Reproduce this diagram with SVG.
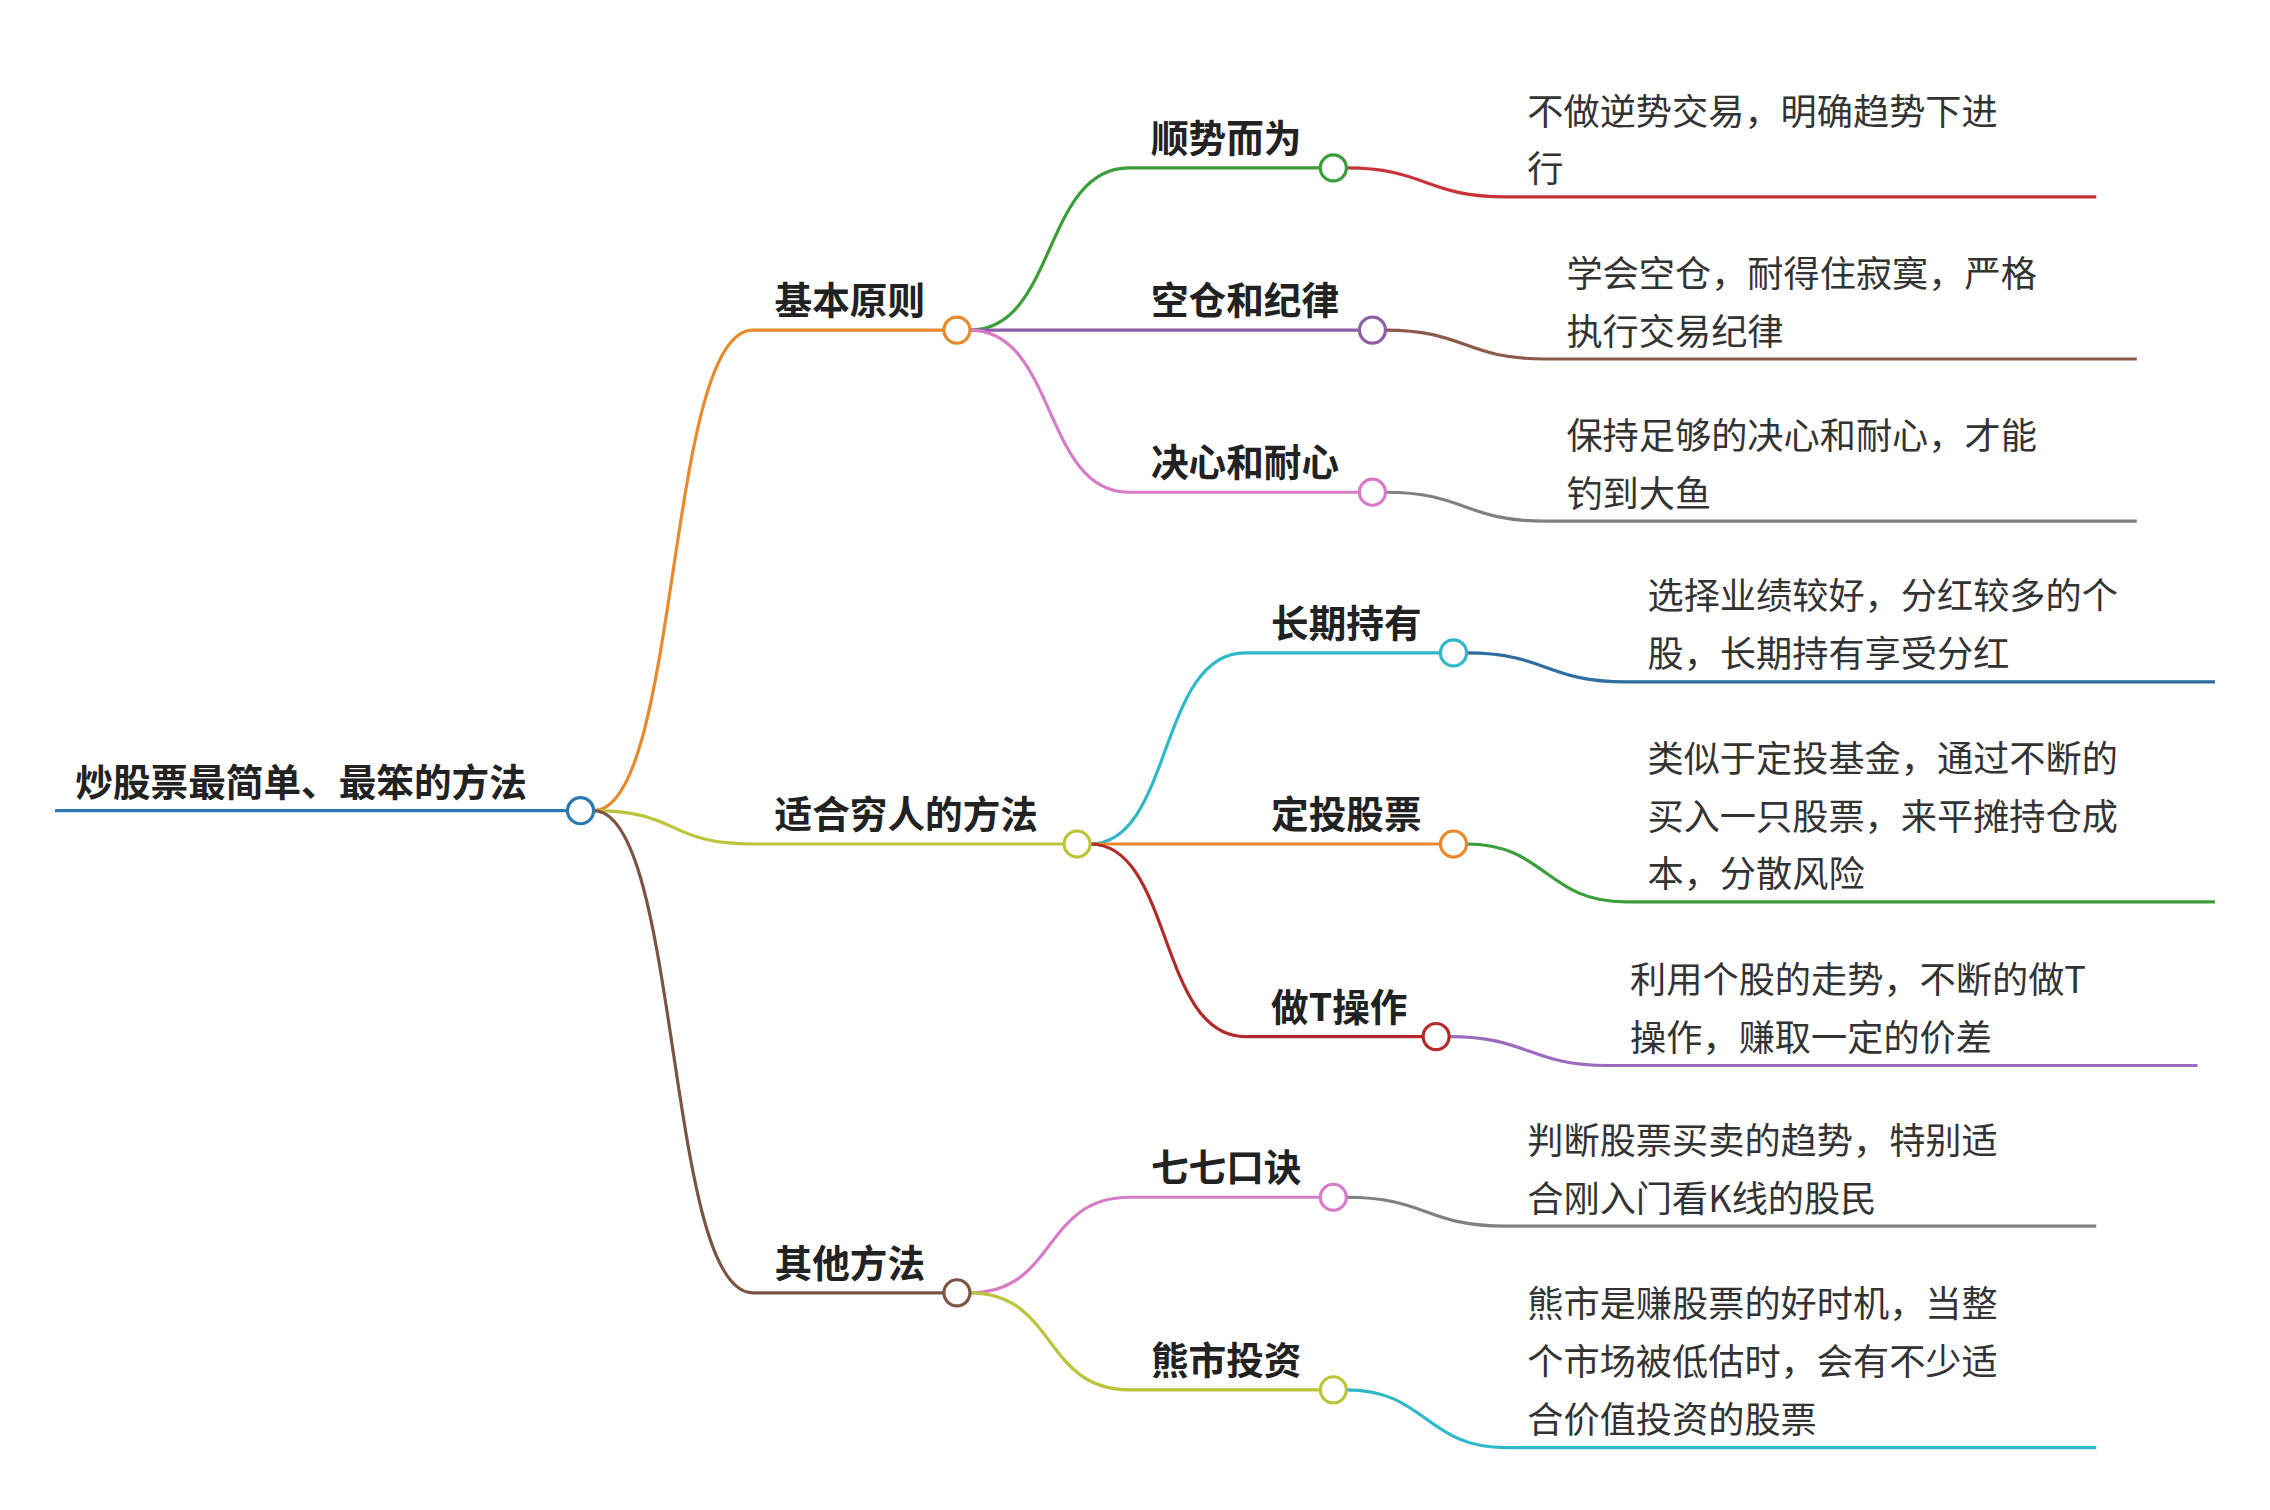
<svg xmlns="http://www.w3.org/2000/svg" width="2270" height="1510" viewBox="0 0 2270 1510">
<style>
.l{fill:none;stroke-width:2.2}
.c{fill:#fff;stroke-width:2.2}
.t{font-family:"Noto Sans CJK SC","Liberation Sans",sans-serif;font-size:26px;font-weight:bold;fill:#222}
.f{font-family:"Noto Sans CJK SC","Liberation Sans",sans-serif;font-size:25px;fill:#333}
</style>
<rect width="2270" height="1510" fill="#fff"/>
<g transform="scale(1.4477)">
<g id="connectors">
<path class="l" stroke="#2a7ab0" d="M38,560 L392,560"/>
<path class="l" stroke="#e8892b" d="M410,560 C470,560 460,228 520,228 L652,228"/>
<path class="l" stroke="#bcc43a" d="M410,560 C470,560 460,583 520,583 L735,583"/>
<path class="l" stroke="#7b5544" d="M410,560 C470,560 460,893 520,893 L652,893"/>
<path class="l" stroke="#3a9e3a" d="M670,228 C730,228 720,116 780,116 L912,116"/>
<path class="l" stroke="#8e5ea8" d="M670,228 L939,228"/>
<path class="l" stroke="#d77bc6" d="M670,228 C730,228 720,340 780,340 L939,340"/>
<path class="l" stroke="#2fb8c8" d="M753,583 C810,583 800,451 860,451 L995,451"/>
<path class="l" stroke="#e8892b" d="M753,583 L995,583"/>
<path class="l" stroke="#b22a2a" d="M753,583 C810,583 800,716 860,716 L983,716"/>
<path class="l" stroke="#d77bc6" d="M670,893 C730,893 720,827 780,827 L912,827"/>
<path class="l" stroke="#bcc43a" d="M670,893 C730,893 720,960 780,960 L912,960"/>
<path class="l" stroke="#c8333a" d="M930,116 C985,116 985,136 1040,136 L1448,136"/>
<path class="l" stroke="#8b5a4a" d="M957,228 C1012,228 1012,248 1067,248 L1476,248"/>
<path class="l" stroke="#808080" d="M957,340 C1012,340 1012,360 1067,360 L1476,360"/>
<path class="l" stroke="#2e6da4" d="M1013,451 C1068,451 1068,471 1123,471 L1530,471"/>
<path class="l" stroke="#3a9e3a" d="M1013,583 C1068,583 1068,623 1123,623 L1530,623"/>
<path class="l" stroke="#9b6bc0" d="M1001,716 C1056,716 1056,736 1111,736 L1518,736"/>
<path class="l" stroke="#808080" d="M930,827 C985,827 985,847 1040,847 L1448,847"/>
<path class="l" stroke="#2fb8c8" d="M930,960 C985,960 985,1000 1040,1000 L1448,1000"/>
</g>
<g id="root"><text class="t" x="52" y="550">炒股票最简单、最笨的方法</text><circle class="c" stroke="#2a7ab0" cx="401" cy="560" r="9"/></g>
<g id="n1"><text class="t" x="535" y="217">基本原则</text><circle class="c" stroke="#e8892b" cx="661" cy="228" r="9"/></g>
<g id="n2"><text class="t" x="535" y="572">适合穷人的方法</text><circle class="c" stroke="#bcc43a" cx="744" cy="583" r="9"/></g>
<g id="n3"><text class="t" x="535" y="882">其他方法</text><circle class="c" stroke="#7b5544" cx="661" cy="893" r="9"/></g>
<g id="n11"><text class="t" x="795" y="105">顺势而为</text><circle class="c" stroke="#3a9e3a" cx="921" cy="116" r="9"/></g>
<g id="n12"><text class="t" x="795" y="217">空仓和纪律</text><circle class="c" stroke="#8e5ea8" cx="948" cy="228" r="9"/></g>
<g id="n13"><text class="t" x="795" y="329">决心和耐心</text><circle class="c" stroke="#d77bc6" cx="948" cy="340" r="9"/></g>
<g id="n21"><text class="t" x="878" y="440">长期持有</text><circle class="c" stroke="#2fb8c8" cx="1004" cy="451" r="9"/></g>
<g id="n22"><text class="t" x="878" y="572">定投股票</text><circle class="c" stroke="#e8892b" cx="1004" cy="583" r="9"/></g>
<g id="n23"><text class="t" x="878" y="705">做T操作</text><circle class="c" stroke="#b22a2a" cx="992" cy="716" r="9"/></g>
<g id="n31"><text class="t" x="795" y="816">七七口诀</text><circle class="c" stroke="#d77bc6" cx="921" cy="827" r="9"/></g>
<g id="n32"><text class="t" x="795" y="949">熊市投资</text><circle class="c" stroke="#bcc43a" cx="921" cy="960" r="9"/></g>
<g id="l11"><text class="f" x="1055" y="86">不做逆势交易，明确趋势下进</text><text class="f" x="1055" y="126">行</text></g>
<g id="l12"><text class="f" x="1082" y="198">学会空仓，耐得住寂寞，严格</text><text class="f" x="1082" y="238">执行交易纪律</text></g>
<g id="l13"><text class="f" x="1082" y="310">保持足够的决心和耐心，才能</text><text class="f" x="1082" y="350">钓到大鱼</text></g>
<g id="l21"><text class="f" x="1138" y="421">选择业绩较好，分红较多的个</text><text class="f" x="1138" y="461">股，长期持有享受分红</text></g>
<g id="l22"><text class="f" x="1138" y="533">类似于定投基金，通过不断的</text><text class="f" x="1138" y="573">买入一只股票，来平摊持仓成</text><text class="f" x="1138" y="613">本，分散风险</text></g>
<g id="l23"><text class="f" x="1126" y="686">利用个股的走势，不断的做T</text><text class="f" x="1126" y="726">操作，赚取一定的价差</text></g>
<g id="l31"><text class="f" x="1055" y="797">判断股票买卖的趋势，特别适</text><text class="f" x="1055" y="837">合刚入门看K线的股民</text></g>
<g id="l32"><text class="f" x="1055" y="910">熊市是赚股票的好时机，当整</text><text class="f" x="1055" y="950">个市场被低估时，会有不少适</text><text class="f" x="1055" y="990">合价值投资的股票</text></g>
</g>
</svg>
